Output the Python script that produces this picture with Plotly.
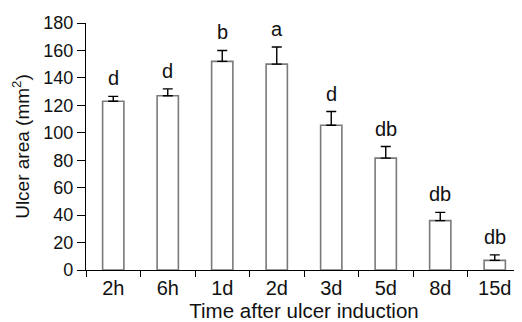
import plotly.graph_objects as go

categories = ["2h", "6h", "1d", "2d", "3d", "5d", "8d", "15d"]
means = [123, 127, 152, 150, 105.5, 81.5, 36, 7]
err_plus = [3.5, 5, 8, 12.5, 10, 8.5, 6, 4]
letters = ["d", "d", "b", "a", "d", "db", "db", "db"]

FONT = "Liberation Sans, Arial, sans-serif"

fig = go.Figure()
fig.add_trace(go.Bar(
    x=categories, y=means, width=0.39,
    marker=dict(color="white", line=dict(color="#7a7a7a", width=1.6)),
    error_y=dict(type="data", array=err_plus, arrayminus=[0]*len(means),
                 symmetric=False, color="black", thickness=1.4, width=5),
))

for c, m, e, t in zip(categories, means, err_plus, letters):
    fig.add_annotation(x=c, y=m + e, text=t, showarrow=False,
                       yanchor="bottom", yshift=5,
                       font=dict(family=FONT, size=20, color="#111111"))

# page body adds an 8px offset, so the figure is 8px smaller than the window
fig.update_layout(
    width=514, height=314,
    margin=dict(l=78, r=0, t=15, b=52),
    paper_bgcolor="white", plot_bgcolor="white",
    showlegend=False,
    font=dict(family=FONT, size=18, color="#111111"),
    xaxis=dict(
        type="category", showline=True, linecolor="black", linewidth=1.3,
        ticks="outside", tickson="boundaries", ticklen=6, tickcolor="black",
        tickwidth=1.3, showgrid=False, automargin=False,
        title=dict(text="Time after ulcer induction", standoff=2,
                   font=dict(size=20.5)),
        tickfont=dict(size=20),
    ),
    yaxis=dict(
        range=[0, 180], dtick=20, showline=True, linecolor="black",
        linewidth=1.3, ticks="outside", ticklen=8, tickcolor="black",
        tickwidth=1.3, showgrid=False, zeroline=False, automargin=False,
        title=dict(text="Ulcer area (mm<sup>2</sup>)", standoff=8,
                   font=dict(size=19)),
        tickfont=dict(size=18),
    ),
)

fig.write_html("out.html")
